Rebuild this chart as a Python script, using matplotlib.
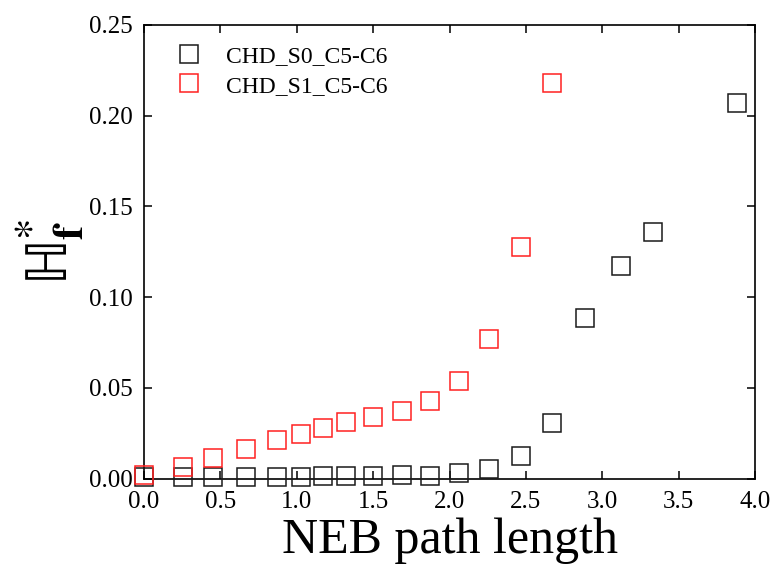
import matplotlib
matplotlib.use("Agg")
import matplotlib.pyplot as plt
import numpy as np

# NEB path coordinates and values
s0_x = [0.0, 0.255, 0.45, 0.67, 0.87, 1.03, 1.17, 1.32, 1.50, 1.69, 1.87,
        2.06, 2.26, 2.47, 2.67, 2.89, 3.12, 3.33, 3.88]
s0_y = [0.0008, 0.0006, 0.0007, 0.0008, 0.0009, 0.001, 0.0012, 0.0014, 0.0016,
        0.0019, 0.0016, 0.0032, 0.0052, 0.0122, 0.0305, 0.0886, 0.117, 0.136, 0.207]

s1_x = [0.0, 0.255, 0.45, 0.67, 0.87, 1.03, 1.17, 1.32, 1.50, 1.69, 1.87,
        2.06, 2.26, 2.47, 2.67]
s1_y = [0.0018, 0.0065, 0.0115, 0.0165, 0.0215, 0.0248, 0.028, 0.031, 0.034,
        0.037, 0.0425, 0.054, 0.077, 0.1277, 0.218]

labels = ["CHD_S0_C5-C6", "CHD_S1_C5-C6"]
xticks = np.arange(0, 4.01, 0.5)
yticks = np.arange(0, 0.251, 0.05)

plt.rcParams['font.family'] = ['Liberation Serif', 'DejaVu Serif']
plt.rcParams['mathtext.fontset'] = 'stix'

fig = plt.figure(figsize=(7.76, 5.67), dpi=100)
ax = fig.add_axes([0.1856, 0.156, 0.973 - 0.1856, 0.956 - 0.156])

ax.plot(s0_x, s0_y, 's', mfc='none', mec='#1a1a1a', ms=13, mew=1.1,
        clip_on=False, label=labels[0], zorder=3)
ax.plot(s1_x, s1_y, 's', mfc='none', mec='#ff2020', ms=13, mew=1.1,
        clip_on=False, label=labels[1], zorder=3)

ax.set_xlim(0, 4.0)
ax.set_ylim(0, 0.25)
ax.set_xticks(xticks)
ax.set_yticks(yticks)
ax.set_xticklabels(["%.1f" % v for v in xticks])
ax.set_yticklabels(["%.2f" % v for v in yticks])
ax.tick_params(direction='in', length=6, width=1.1, labelsize=18,
               top=True, right=True, pad=8)
ax.tick_params(axis='x', pad=9)
for sp in ax.spines.values():
    sp.set_linewidth(1.2)

ax.set_xlabel("NEB path length", fontsize=36, labelpad=3)
ax.set_ylabel(r"$\mathrm{ℍ}_{\mathbf{f}}^{*}$", fontsize=44, labelpad=3)

ax.legend(loc='upper left', frameon=False, fontsize=17, handletextpad=0.55,
          borderaxespad=0.3, labelspacing=0.32, bbox_to_anchor=(0.008, 0.99))

fig.savefig("out.png", dpi=100)
